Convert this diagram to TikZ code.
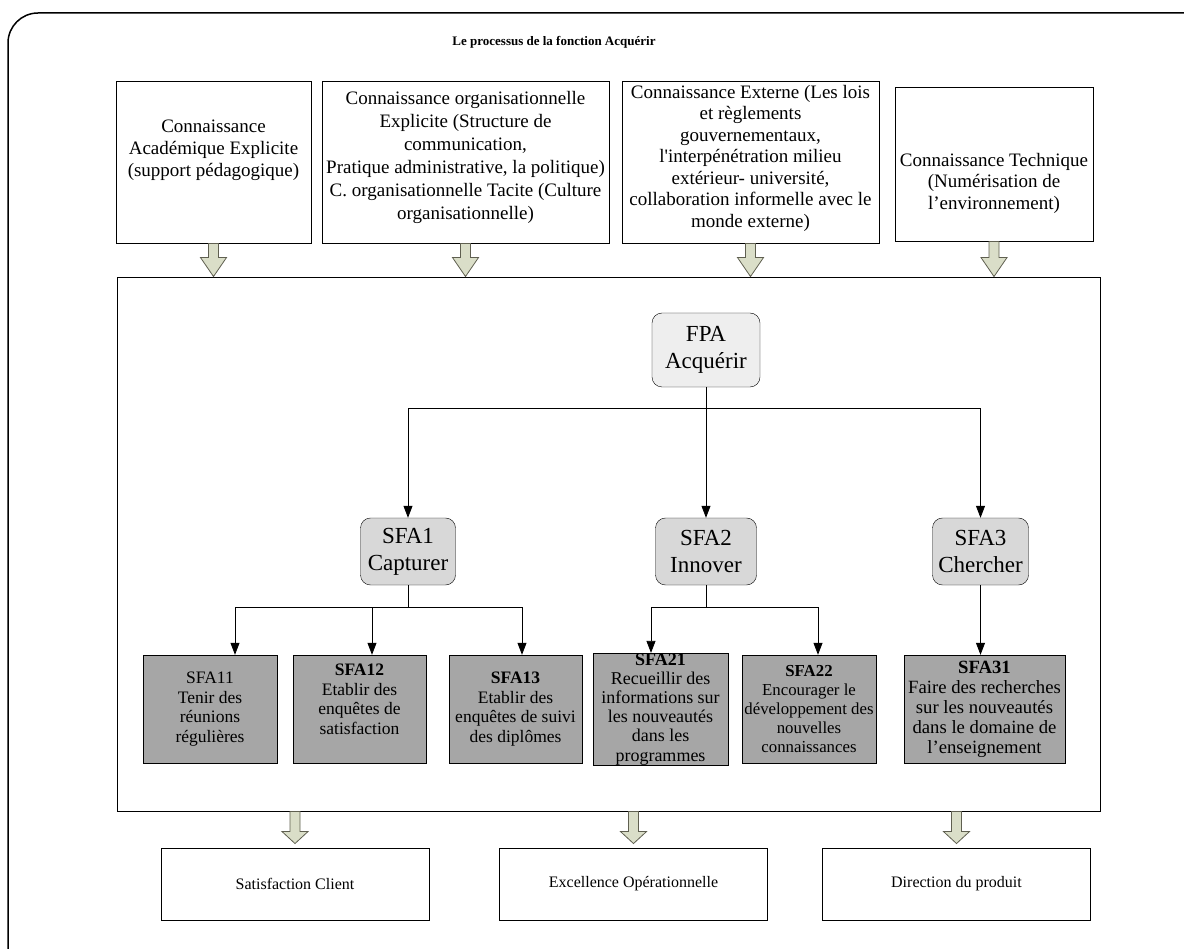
\documentclass[tikz,border=0pt]{standalone}
\usepackage{fontspec}
\setmainfont{Liberation Serif}
\usetikzlibrary{calc,arrows.meta}
\definecolor{fatfill}{RGB}{218,222,200}
\definecolor{fatline}{RGB}{95,95,80}
\definecolor{fpagray}{RGB}{238,238,238}
\definecolor{sfagray}{RGB}{216,216,216}
\definecolor{leafgray}{RGB}{166,166,166}
\newcommand{\fs}[2]{\fontsize{#1}{#2}\selectfont}
\newcommand{\fatarrow}[3]{%
  \draw [fatarr] ($(#1)+(-5,0)$) -- ($(#2)+(-5,-#3)$) -- ($(#2)+(-13,-#3)$) -- (#2)
    -- ($(#2)+(13,-#3)$) -- ($(#2)+(5,-#3)$) -- ($(#1)+(5,0)$) -- cycle;}

\begin{document}
\begin{tikzpicture}[x=1pt, y=-1pt,
	box/.style={draw, line width=0.9pt, inner sep=0pt},
	toptxt/.style={align=center, inner sep=0pt, font=\fs{19}{22}},
	fatarr/.style={draw=fatline, fill=fatfill, line width=0.8pt},
	fpanode/.style={draw, fill=fpagray, rounded corners=10pt, align=center, inner sep=0pt, font=\fs{23}{27}},
	sfanode/.style={fpanode, fill=sfagray, minimum height=67pt},
	leaf/.style={draw, fill=leafgray, minimum height=108pt, inner sep=0pt, align=center, font=\fs{17.5}{19.5}},
	res/.style={box, minimum width=268pt, minimum height=72pt, font=\fs{16}{18}},
	conn/.style={-{Triangle[width=9pt,length=12pt]}, line width=0.8pt}]
	\useasboundingbox (0,0) rectangle (1184,949);
	\draw [line width=1.5pt, rounded corners=30pt] (8,970) -- (8,13) -- (1200,13);
	\node [font=\bfseries\fs{13}{15}] (title) at (554,42) {Le processus de la fonction Acquérir};

	\node [box, minimum width=195pt, minimum height=162pt] (k1) at (213.5,162) {};
	\node [toptxt] (k1t) at (213.5,150) {Connaissance\\Académique Explicite\\(support pédagogique)};
	\node [box, minimum width=287pt, minimum height=162pt] (k2) at (465.5,162) {};
	\node [toptxt, font=\fs{19}{23}] (k2t) at (465.5,157) {Connaissance organisationnelle\\Explicite (Structure de\\communication,\\Pratique administrative, la politique)\\C. organisationnelle Tacite (Culture\\organisationnelle)};
	\node [box, minimum width=257pt, minimum height=162pt] (k3) at (750.5,162) {};
	\node [toptxt, font=\fs{19}{21.5}] (k3t) at (750.5,158) {Connaissance Externe (Les lois\\et règlements\\gouvernementaux,\\l\textquotesingle interpénétration milieu\\extérieur- université,\\collaboration informelle avec le\\monde externe)};
	\node [box, minimum width=198pt, minimum height=154pt] (k4) at (994,164) {};
	\node [toptxt, font=\fs{19}{21.5}] (k4t) at (994,183) {Connaissance Technique\\(Numérisation de\\l’environnement)};

	\node [box, minimum width=983pt, minimum height=534pt] (main) at (608.5,544) {};
	\foreach \kk in {k1,k2,k3,k4} {
		\coordinate (\kk e) at (\kk.south |- main.north);
		\fatarrow{\kk.south}{\kk e}{19}
	}

	\node [fpanode, minimum width=108pt, minimum height=74pt] (fpa) at (706,350) {FPA\\Acquérir};
	\node [sfanode, minimum width=95pt] (sfa1) at (408,551.5) {SFA1\\Capturer};
	\node [sfanode, minimum width=101pt] (sfa2) at (706,551.5) {SFA2\\Innover};
	\node [sfanode, minimum width=96pt] (sfa3) at (980.5,551.5) {SFA3\\Chercher};
	\draw [conn] (fpa.south) -- ++(0,21) -| (sfa1.north);
	\draw [conn] (fpa.south) -- (sfa2.north);
	\draw [conn] (fpa.south) -- ++(0,21) -| (sfa3.north);

	\node [leaf, minimum width=134pt] (l11) at (210,709) {SFA11\\Tenir des\\réunions\\régulières};
	\node [leaf, minimum width=133pt] (l12) at (359.5,709) {\textbf{SFA12}\\Etablir des\\enquêtes de\\satisfaction\\\mbox{}};
	\node [leaf, minimum width=133pt] (l13) at (515.5,709) {\textbf{SFA13}\\Etablir des\\enquêtes de suivi\\des diplômes};
	\node [leaf, minimum width=135pt, font=\fs{18}{19.2}] (l21) at (660.5,709) {\textbf{SFA21}\\Recueillir des\\informations sur\\les nouveautés\\dans les\\programmes};
	\node [leaf, minimum width=134pt, font=\fs{16.8}{19}] (l22) at (809,709) {\textbf{SFA22}\\Encourager le\\développement des\\nouvelles\\connaissances};
	\node [leaf, minimum width=161pt, font=\fs{18.7}{20}] (l31) at (984.5,709) {\textbf{SFA31}\\Faire des recherches\\sur les nouveautés\\dans le domaine de\\l’enseignement};
	\draw [conn] (sfa1.south) -- ++(0,22) -| ([xshift=25pt]l11.north);
	\draw [conn] (sfa1.south) -- ++(0,22) -| ([xshift=12.5pt]l12.north);
	\draw [conn] (sfa1.south) -- ++(0,22) -| ([xshift=6.5pt]l13.north);
	\draw [conn] (sfa2.south) -- ++(0,22) -| ([xshift=-9.5pt]l21.north);
	\draw [conn] (sfa2.south) -- ++(0,22) -| ([xshift=9pt]l22.north);
	\draw [conn] (sfa3.south) -- (sfa3.south |- l31.north);

	\node [res] (r1) at (295,884) {Satisfaction Client};
	\node [res] (r2) at (633.5,884) {Excellence Opérationnelle};
	\node [res] (r3) at (956.5,884) {Direction du produit};
	\foreach \nm in {r1,r2,r3} {
		\coordinate (\nm s) at (\nm.north |- main.south);
		\coordinate (\nm t) at ([yshift=4pt]\nm.north);
		\fatarrow{\nm s}{\nm t}{12}
	}
\end{tikzpicture}
\end{document}
